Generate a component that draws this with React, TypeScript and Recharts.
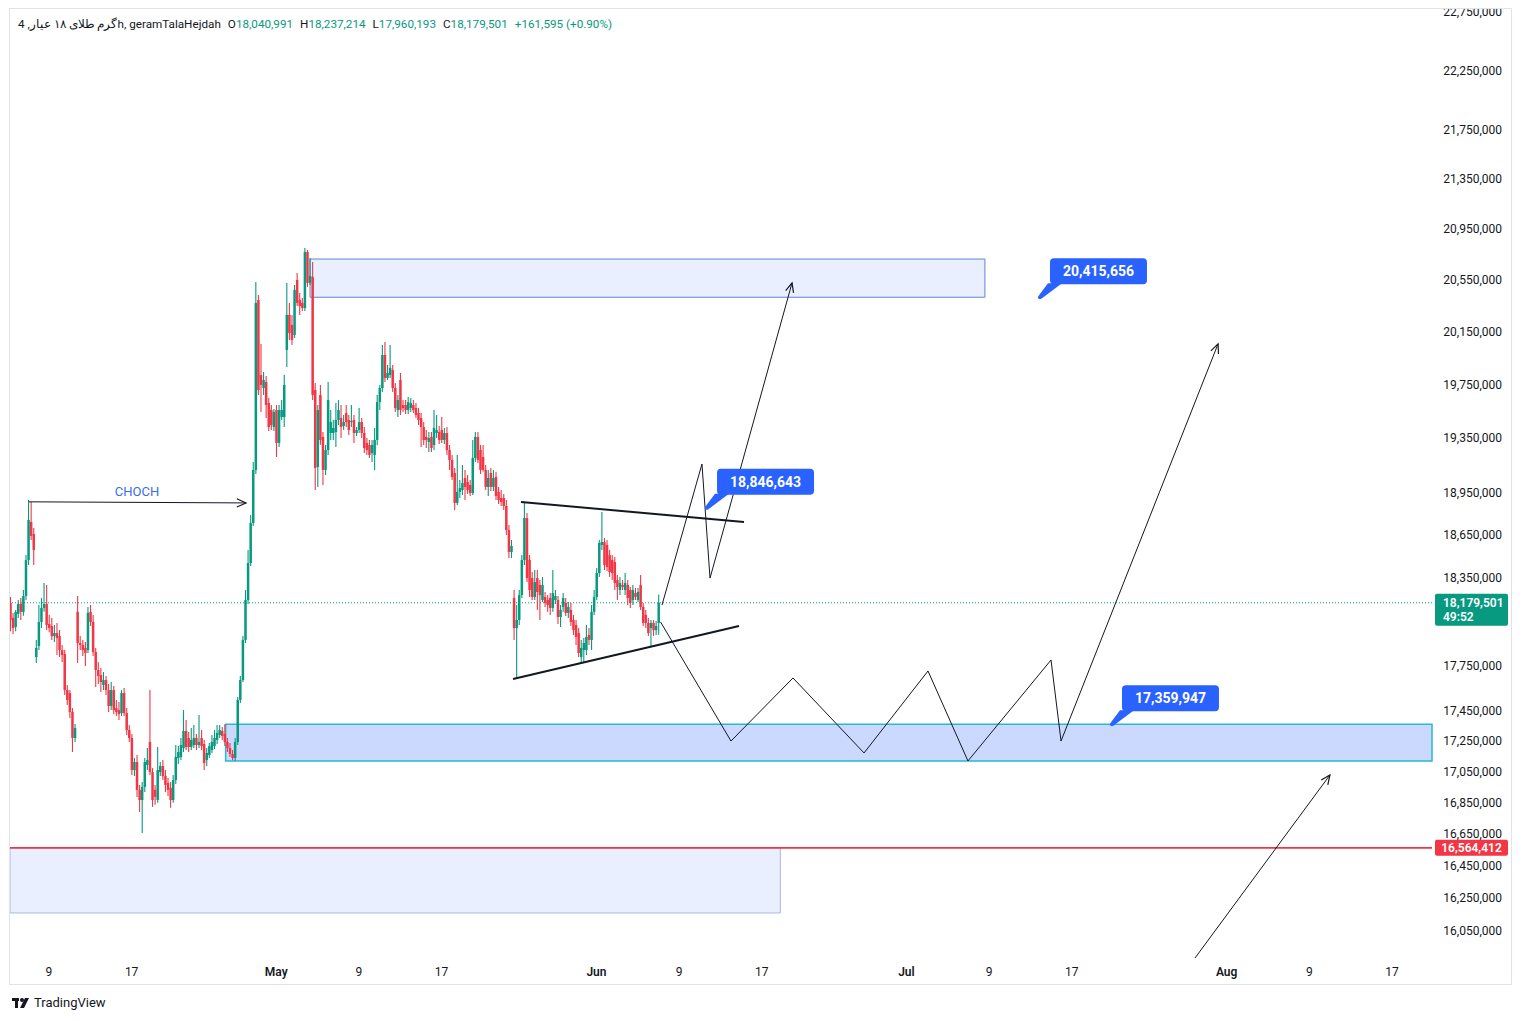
import React from "react";
import {
  ComposedChart,
  Bar,
  XAxis,
  YAxis,
  ReferenceArea,
  ReferenceLine,
  ReferenceDot,
} from "recharts";

const UP = "#089981";
const DOWN = "#f23645";
const INK = "#131722";
const NOTE_BLUE = "#2962ff";
const FONT = "Roboto, 'Liberation Sans', sans-serif";

// 4h candles (4 a day), [open, high, low, close] in thousands
const aprilCandles = [
  [18178, 18220, 17985, 18061], [18075, 18110, 17965, 18006], [18013, 18130, 17985, 18117], [18103, 18199, 18075, 18171],
  [18171, 18213, 18061, 18117], [18117, 18268, 18090, 18226], [18226, 18512, 18199, 18477], [18477, 18903, 18442, 18760],
  [18746, 18889, 18618, 18647], [18661, 18703, 18442, 18548], [17809, 17925, 17769, 17870], [17884, 18164, 17856, 18048],
  [18048, 18213, 18006, 18144], [18144, 18317, 18117, 18171], [18171, 18303, 17992, 18027], [18034, 18096, 17978, 18006],
  [18020, 18075, 17925, 17951], [17951, 18027, 17911, 17972], [17972, 18041, 17823, 17938], [17951, 17992, 17809, 17856],
  [17856, 17891, 17775, 17823], [17830, 17856, 17554, 17587], [17587, 17621, 17487, 17521], [17567, 17587, 17401, 17441],
  [17441, 17467, 17178, 17270], [17270, 17362, 17244, 17335], [18117, 18226, 17769, 17904], [17904, 17952, 17856, 17891],
  [17891, 17925, 17816, 17856], [17870, 17911, 17748, 17836], [17856, 18151, 17836, 18110], [18117, 18164, 18020, 18048],
  [18048, 18096, 17816, 17843], [17843, 17870, 17608, 17722], [17722, 17775, 17628, 17681], [17688, 17735, 17574, 17641],
  [17621, 17708, 17587, 17654], [17654, 17681, 17554, 17587], [17587, 17628, 17441, 17481], [17481, 17641, 17454, 17587],
  [17587, 17614, 17427, 17454], [17467, 17521, 17414, 17441], [17454, 17507, 17388, 17427], [17434, 17587, 17414, 17567],
  [17567, 17601, 17414, 17434], [17434, 17467, 17290, 17322], [17322, 17355, 17244, 17270], [17270, 17296, 17029, 17061],
  [17061, 17139, 17022, 17113], [17113, 17159, 16888, 16933], [16933, 16965, 16792, 16868], [16868, 16984, 16658, 16952],
  [16952, 17139, 16920, 17113], [17094, 17204, 17061, 17126], [17244, 17587, 17029, 17048], [17048, 17074, 16824, 16868],
  [16933, 16965, 16837, 16888], [16868, 17211, 16850, 17061], [17048, 17113, 17022, 17087], [17087, 17126, 16997, 17022],
  [17022, 17061, 16920, 16965], [16978, 17010, 16894, 16933], [16946, 16984, 16818, 16868], [16868, 17029, 16850, 16997],
  [16997, 17224, 16971, 17146], [17139, 17217, 17100, 17178], [17146, 17270, 17126, 17224], [17204, 17454, 17178, 17316],
  [17316, 17388, 17191, 17211], [17270, 17309, 17178, 17211], [17211, 17335, 17191, 17257], [17224, 17355, 17204, 17270],
  [17270, 17296, 17191, 17224], [17224, 17421, 17204, 17244], [17270, 17322, 17191, 17217], [17230, 17257, 17061, 17107],
  [17126, 17204, 17087, 17172], [17159, 17237, 17139, 17217], [17191, 17290, 17172, 17244], [17217, 17322, 17198, 17270],
  [17257, 17355, 17230, 17303], [17290, 17355, 17270, 17322], [17316, 17342, 17257, 17283], [17296, 17360, 17217, 17244],
  [17244, 17270, 17178, 17204], [17204, 17237, 17146, 17165], [17165, 17191, 17125, 17139], [17139, 17270, 17120, 17244],
  [17244, 17541, 17224, 17521], [17521, 17681, 17501, 17654], [17654, 17952, 17641, 17925], [17925, 18268, 17904, 18199],
  [18199, 18548, 18171, 18456], [18456, 18796, 18435, 18739], [18739, 19178, 18718, 19120], [19120, 20535, 19091, 20371],
  [20394, 20433, 19672, 19709], [19822, 20057, 19545, 19747], [19724, 19845, 19672, 19784], [19769, 19814, 19500, 19597],
  [19612, 19649, 19404, 19434], [19560, 19597, 19412, 19449], [19434, 19567, 19405, 19545],
];

const mayCandles = [
  [19560, 19597, 19214, 19317], [19317, 19597, 19287, 19560], [19508, 19634, 19486, 19560], [19508, 19822, 19434, 19747],
  [20011, 20527, 19882, 20279], [20279, 20371, 20087, 20140], [20202, 20279, 20049, 20087], [20125, 20511, 20103, 20472],
  [20550, 20605, 20348, 20371], [20394, 20449, 20279, 20348], [20371, 20410, 20309, 20332], [20332, 20801, 20309, 20769],
  [20769, 20785, 20496, 20527], [20527, 20722, 20511, 20581], [20574, 20690, 19634, 19672], [19709, 19762, 18975, 19135],
  [19141, 19597, 18997, 19560], [19672, 19747, 19303, 19339], [19361, 19397, 19011, 19120], [19120, 19302, 19084, 19265],
  [19265, 19769, 19229, 19634], [19390, 19560, 19339, 19471], [19390, 19486, 19339, 19427], [19397, 19612, 19287, 19486],
  [19486, 19634, 19449, 19560], [19501, 19597, 19353, 19434], [19442, 19523, 19412, 19471], [19538, 19597, 19434, 19471],
  [19486, 19523, 19375, 19412], [19471, 19597, 19434, 19479], [19486, 19523, 19317, 19390], [19390, 19434, 19368, 19412],
  [19412, 19575, 19390, 19471], [19471, 19501, 19353, 19390], [19390, 19434, 19243, 19280], [19317, 19353, 19229, 19265],
  [19302, 19339, 19207, 19229], [19243, 19339, 19178, 19302], [19229, 19426, 19120, 19339], [19339, 19672, 19302, 19619],
  [19619, 19747, 19560, 19724], [19724, 20049, 19694, 19973], [19973, 20072, 19769, 19799], [19799, 19897, 19784, 19837],
  [19822, 20049, 19799, 19875], [19859, 19897, 19694, 19724], [19724, 19762, 19545, 19575], [19560, 19672, 19508, 19634],
  [19784, 19837, 19523, 19560], [19597, 19634, 19545, 19575], [19597, 19634, 19530, 19560], [19560, 19657, 19530, 19619],
  [19575, 19649, 19545, 19612], [19597, 19634, 19538, 19560], [19575, 19612, 19501, 19523], [19538, 19575, 19449, 19486],
  [19501, 19538, 19287, 19434], [19434, 19471, 19302, 19339], [19361, 19412, 19280, 19339], [19324, 19397, 19251, 19353],
  [19361, 19397, 19251, 19280], [19302, 19560, 19265, 19427], [19390, 19523, 19353, 19412], [19397, 19442, 19310, 19339],
  [19412, 19508, 19317, 19339], [19339, 19427, 19310, 19390], [19390, 19434, 19229, 19265], [19265, 19302, 19120, 19192],
  [19192, 19229, 19047, 19069], [19098, 19135, 18831, 18882], [18882, 19229, 18867, 18961], [18961, 19047, 18918, 18989],
  [18975, 19156, 18939, 19025], [19062, 19120, 18903, 18997], [19033, 19084, 18946, 18975], [19011, 19047, 18932, 18953],
  [18953, 19339, 18939, 19207], [19207, 19397, 19178, 19361], [19361, 19397, 19170, 19192], [19265, 19302, 19091, 19120],
  [19214, 19302, 19106, 19120], [19120, 19156, 18975, 18997], [18997, 19120, 18932, 19062], [19098, 19135, 18968, 18997],
  [18997, 19120, 18968, 19062], [19069, 19106, 18903, 18932], [18961, 18997, 18874, 18903], [18918, 18975, 18860, 18889],
  [18918, 18946, 18831, 18860], [18860, 18903, 18654, 18689], [18689, 18725, 18491, 18533], [18533, 18618, 18491, 18576],
  [18213, 18268, 17925, 18006], [18006, 18164, 17661, 18061], [18061, 18268, 18027, 18233], [18233, 18512, 18213, 18477],
  [18477, 18882, 18442, 18774], [18774, 18810, 18323, 18351], [18477, 18512, 18220, 18268], [18351, 18393, 18199, 18220],
  [18220, 18407, 18199, 18323], [18351, 18407, 18130, 18254], [18303, 18337, 18061, 18233], [18199, 18358, 18185, 18303],
  [18220, 18254, 18151, 18178], [18199, 18233, 18117, 18164], [18213, 18247, 18096, 18144], [18144, 18407, 18117, 18247],
  [18199, 18268, 18171, 18226], [18199, 18226, 18034, 18082], [18082, 18164, 18013, 18130], [18151, 18247, 18117, 18213],
  [18178, 18213, 18089, 18110], [18110, 18185, 18075, 18151], [18130, 18178, 18020, 18048], [18061, 18096, 17959, 17992],
  [18027, 18061, 17891, 17945], [17972, 18006, 17809, 17836], [17809, 17925, 17769, 17870], [17856, 17938, 17775, 17904],
  [17856, 18027, 17823, 17945], [17959, 18006, 17891, 17925], [17925, 18164, 17856, 18117], [18117, 18268, 18096, 18220],
];

const juneCandles = [
  [18220, 18421, 18199, 18386], [18386, 18618, 18358, 18597], [18583, 18817, 18548, 18604], [18604, 18632, 18407, 18442],
  [18583, 18618, 18400, 18428], [18512, 18548, 18358, 18393], [18477, 18512, 18337, 18386], [18463, 18498, 18268, 18317],
  [18337, 18372, 18199, 18289], [18268, 18358, 18233, 18317], [18303, 18337, 18268, 18289], [18268, 18386, 18233, 18317],
  [18303, 18337, 18164, 18213], [18268, 18289, 18144, 18178], [18199, 18303, 18164, 18268], [18247, 18282, 18199, 18220],
  [18199, 18282, 18185, 18254], [18303, 18372, 18130, 18151], [18151, 18178, 18020, 18041], [18096, 18130, 18006, 18041],
  [18041, 18075, 17951, 17972], [18006, 18061, 17877, 18041], [18041, 18061, 17952, 17992], [17992, 18054, 17959, 18020],
  [18040.991, 18237.214, 17960.193, 18179.501],
];

// days counted so that Apr 1 = 1, May 1 = 31, Jun 1 = 62, Jul 1 = 92, Aug 1 = 123
const firstCandleDay = 5.3;
const candleStep = 0.25;
const dayDomain = [5.225, 142.88];
const dayTicks = [9, 17, 31, 39, 47, 62, 70, 78, 92, 100, 108, 123, 131, 139];
const dayTickLabels = ["9", "17", "May", "9", "17", "Jun", "9", "17", "Jul", "9", "17", "Aug", "9", "17"];

const priceDomain = [15886000, 22768000];
const priceTicks = [
  16050000, 16250000, 16450000, 16650000, 16850000, 17050000, 17250000, 17450000, 17750000,
  18350000, 18650000, 18950000, 19350000, 19750000, 20150000, 20550000, 20950000, 21350000,
  21750000, 22250000, 22750000,
];

const lastPrice = 18179501;
const redLevel = 16564412;

// zones: [dayFrom, dayTo, priceLow, priceHigh]
const supplyZone = [34.27, 99.6, 20415656, 20714000];
const demandZone = [26.1, 142.88, 17120000, 17359947];
const lowerZone = [5.225, 79.8, 16160000, 16564412];

// drawn paths: [day, price]
const chochLine = [[7.06, 18890000], [28.07, 18882000]];
const triangleTop = [[54.69, 18889000], [76.28, 18746000]];
const triangleBottom = [[53.92, 17661000], [75.8, 18020000]];
const breakoutPath = [[68.34, 18164000], [72.21, 19163000], [72.99, 18351000], [80.93, 20527000]];
const rangePath = [
  [68.2, 18048000], [75.02, 17250000], [81.02, 17668000], [87.9, 17172000], [94.09, 17715000],
  [97.96, 17120000], [106.0, 17789000], [106.97, 17250000], [122.17, 20057000],
];
const sweepArrow = [[119.94, 15886000], [133.0, 17029000]];

const notePrices = [20415656, 18846643, 17359947];
const noteDays = [104.93, 72.7, 111.9];
const chochText = { day: 17.52, price: 18968000 };

const candles = [...aprilCandles, ...mayCandles, ...juneCandles];
const data = candles.map(([o, h, l, c], i) => ({
  day: firstCandleDay + i * candleStep,
  open: o * 1000,
  high: h * 1000,
  low: l * 1000,
  close: c * 1000,
  range: [l * 1000, h * 1000],
}));

const fmt = (v: number) => v.toLocaleString("en-US");

const CandleShape = (props: any) => {
  const { x, y, width, height, payload } = props;
  if (x == null || y == null || !payload) return null;
  const top = Math.min(y, y + height);
  const span = Math.abs(height);
  const { open, close, high, low } = payload;
  const lh = Math.log(high);
  const ll = Math.log(low);
  const toY = (v: number) => (lh === ll ? top : top + (span * (lh - Math.log(v))) / (lh - ll));
  const yo = toY(open);
  const yc = toY(close);
  const color = close >= open ? UP : DOWN;
  const cx = x + width / 2;
  return (
    <g>
      <line x1={cx} x2={cx} y1={top} y2={top + span} stroke={color} strokeWidth={1.1} />
      <rect
        x={cx - 1.25}
        y={Math.min(yo, yc)}
        width={2.5}
        height={Math.max(1, Math.abs(yc - yo))}
        fill={color}
      />
    </g>
  );
};

const lineShape = (head: boolean, width: number) => (props: any) => {
  const x1 = Number(props.x1);
  const y1 = Number(props.y1);
  const x2 = Number(props.x2);
  const y2 = Number(props.y2);
  const a = Math.atan2(y2 - y1, x2 - x1);
  const len = 10;
  const s = 0.42;
  const d = `M${x2 - len * Math.cos(a - s)},${y2 - len * Math.sin(a - s)}L${x2},${y2}L${x2 - len * Math.cos(a + s)},${y2 - len * Math.sin(a + s)}`;
  return (
    <g>
      <line x1={x1} y1={y1} x2={x2} y2={y2} stroke={INK} strokeWidth={width} />
      {head && <path d={d} fill="none" stroke={INK} strokeWidth={1.2} />}
    </g>
  );
};

const renderPath = (pts: number[][], key: string, arrow: boolean, width: number) =>
  pts.slice(1).map((p, i) => (
    <ReferenceLine
      key={`${key}-${i}`}
      segment={[
        { x: pts[i][0], y: pts[i][1] },
        { x: p[0], y: p[1] },
      ]}
      ifOverflow="visible"
      shape={lineShape(arrow && i === pts.length - 2, width)}
    />
  ));

const NoteShape = (props: any) => {
  const { cx, cy, text } = props;
  if (cx == null || cy == null) return null;
  const bx = cx + 10;
  const by = cy - 39;
  return (
    <g>
      <polygon
        points={`${cx + 8},${cy - 14} ${cx + 22},${cy - 14} ${cx + 2},${cy + 1} ${cx - 1},${cy - 2}`}
        fill={NOTE_BLUE}
      />
      <circle cx={cx} cy={cy} r={2} fill={NOTE_BLUE} />
      <rect x={bx} y={by} width={97} height={26} rx={4} fill={NOTE_BLUE} />
      <text
        x={bx + 48.5}
        y={by + 18}
        textAnchor="middle"
        fill="#ffffff"
        fontSize={14}
        fontWeight={700}
        fontFamily={FONT}
      >
        {text}
      </text>
    </g>
  );
};

const XTick = (props: any) => {
  const { x, payload } = props;
  const idx = dayTicks.indexOf(payload.value);
  const label = dayTickLabels[idx] ?? "";
  const month = isNaN(Number(label));
  return (
    <text x={x} y={975.5} textAnchor="middle" fill={INK} fontSize={12} fontFamily={FONT} fontWeight={month ? 600 : 400}>
      {label}
    </text>
  );
};

const YTick = (props: any) => {
  const { y, payload } = props;
  return (
    <text x={1502} y={y + 4} textAnchor="end" fill={INK} fontSize={12} fontFamily={FONT}>
      {fmt(payload.value)}
    </text>
  );
};

const LastPriceTag = (props: any) => {
  const vb = props.viewBox || {};
  const x = vb.x + vb.width + 3;
  const y = vb.y;
  return (
    <g>
      <rect x={x} y={y - 9} width={73} height={32} rx={2} fill={UP} />
      <text x={x + 8} y={y + 4} fill="#fff" fontSize={12} fontWeight={600} fontFamily={FONT}>
        {fmt(lastPrice)}
      </text>
      <text x={x + 8} y={y + 18} fill="#fff" fontSize={12} fontWeight={600} fontFamily={FONT}>
        49:52
      </text>
    </g>
  );
};

const RedTag = (props: any) => {
  const vb = props.viewBox || {};
  const x = vb.x + vb.width + 3;
  const y = vb.y;
  return (
    <g>
      <rect x={x} y={y - 8} width={73} height={16} rx={2} fill={DOWN} />
      <text x={x + 36.5} y={y + 4} textAnchor="middle" fill="#fff" fontSize={12} fontWeight={600} fontFamily={FONT}>
        {fmt(redLevel)}
      </text>
    </g>
  );
};

const Header = () => (
  <div
    style={{
      position: "absolute",
      left: 18,
      top: 17,
      fontFamily: FONT,
      fontSize: 11.7,
      lineHeight: "14px",
      color: INK,
      whiteSpace: "nowrap",
    }}
  >
    <span>گرم طلای ۱۸ عیار, 4h, geramTalaHejdah</span>
    <span style={{ marginLeft: 7 }}>O</span>
    <span style={{ color: UP }}>18,040,991</span>
    <span style={{ marginLeft: 7 }}>H</span>
    <span style={{ color: UP }}>18,237,214</span>
    <span style={{ marginLeft: 7 }}>L</span>
    <span style={{ color: UP }}>17,960,193</span>
    <span style={{ marginLeft: 7 }}>C</span>
    <span style={{ color: UP }}>18,179,501</span>
    <span style={{ marginLeft: 7, color: UP }}>+161,595 (+0.90%)</span>
  </div>
);

const Logo = () => (
  <div style={{ position: "absolute", left: 12, top: 995, display: "flex", alignItems: "center", fontFamily: FONT }}>
    <svg width={20} height={12} viewBox="0 0 20 12">
      <rect x={0} y={1} width={7} height={3} fill={INK} />
      <rect x={3} y={1} width={3} height={10} fill={INK} />
      <circle cx={10} cy={3} r={2} fill={INK} />
      <polygon points="13,1 17,1 12,11 8,11" fill={INK} />
    </svg>
    <span style={{ marginLeft: 2, fontSize: 13, color: INK }}>TradingView</span>
  </div>
);

export default function App() {
  return (
    <div
      style={{
        position: "absolute",
        left: 0,
        top: 0,
        width: 1523,
        height: 1021,
        background: "#ffffff",
        overflow: "hidden",
      }}
    >
      <ComposedChart
        width={1523}
        height={1021}
        data={data}
        margin={{ top: 10, right: 11, bottom: 36, left: 10 }}
        style={{ position: "absolute", left: 0, top: 0 }}
      >
        <XAxis
          dataKey="day"
          type="number"
          domain={dayDomain}
          allowDataOverflow
          ticks={dayTicks}
          interval={0}
          height={27}
          axisLine={false}
          tickLine={false}
          tick={<XTick />}
        />
        <YAxis
          orientation="right"
          type="number"
          scale="log"
          domain={priceDomain}
          allowDataOverflow
          ticks={priceTicks}
          interval={0}
          width={80}
          axisLine={false}
          tickLine={false}
          tick={<YTick />}
        />
        <ReferenceArea
          x1={lowerZone[0]}
          x2={lowerZone[1]}
          y1={lowerZone[2]}
          y2={lowerZone[3]}
          fill="#2962ff"
          fillOpacity={0.1}
          stroke="#a9b8e6"
          strokeWidth={1}
          ifOverflow="visible"
        />
        <ReferenceArea
          x1={supplyZone[0]}
          x2={supplyZone[1]}
          y1={supplyZone[2]}
          y2={supplyZone[3]}
          fill="#2962ff"
          fillOpacity={0.1}
          stroke="#5b86d8"
          strokeWidth={1}
          ifOverflow="visible"
        />
        <ReferenceArea
          x1={demandZone[0]}
          x2={demandZone[1]}
          y1={demandZone[2]}
          y2={demandZone[3]}
          fill="#2962ff"
          fillOpacity={0.24}
          stroke="#26b8d4"
          strokeWidth={1.5}
          ifOverflow="visible"
        />
        <ReferenceLine
          y={lastPrice}
          stroke={UP}
          strokeDasharray="1 2"
          ifOverflow="visible"
          label={(p: any) => <LastPriceTag {...p} />}
        />
        <ReferenceLine y={redLevel} stroke={DOWN} strokeWidth={1.8} ifOverflow="visible" label={(p: any) => <RedTag {...p} />} />
        <Bar dataKey="range" barSize={2} isAnimationActive={false} shape={CandleShape} />
        {renderPath(chochLine, "choch", true, 1)}
        {renderPath(triangleTop, "tri-top", false, 2)}
        {renderPath(triangleBottom, "tri-bottom", false, 2)}
        {renderPath(breakoutPath, "breakout", true, 1)}
        {renderPath(rangePath, "range", true, 1)}
        {renderPath(sweepArrow, "sweep", true, 1)}
        <ReferenceDot
          x={chochText.day}
          y={chochText.price}
          r={0}
          ifOverflow="visible"
          shape={(p: any) => (
            <text x={p.cx} y={p.cy + 5} textAnchor="middle" fill="#3a6ee8" fontSize={13} fontFamily={FONT}>
              CHOCH
            </text>
          )}
        />
        {notePrices.map((price, i) => (
          <ReferenceDot
            key={`note-${i}`}
            x={noteDays[i]}
            y={price}
            r={0}
            ifOverflow="visible"
            shape={(p: any) => <NoteShape {...p} text={fmt(price)} />}
          />
        ))}
      </ComposedChart>
      <div style={{ position: "absolute", left: 0, top: 0, width: 1523, height: 9, background: "#ffffff" }} />
      <div
        style={{
          position: "absolute",
          left: 9,
          top: 8,
          width: 1503,
          height: 977,
          border: "1px solid #e0e3eb",
          boxSizing: "border-box",
          pointerEvents: "none",
        }}
      />
      <Header />
      <Logo />
    </div>
  );
}
